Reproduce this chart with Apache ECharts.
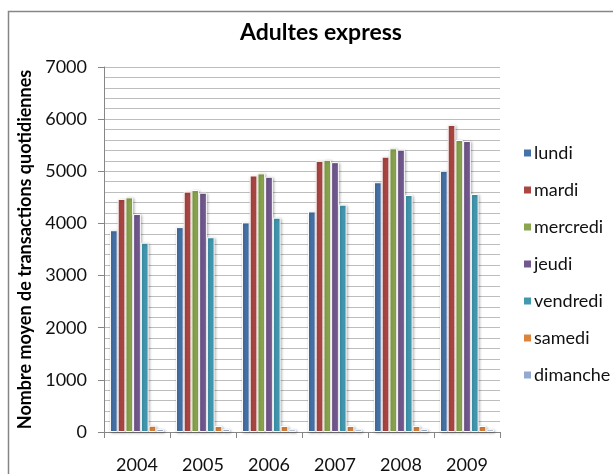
<!DOCTYPE html>
<html>
<head>
<meta charset="utf-8">
<script src="https://cdn.jsdelivr.net/npm/echarts@6/dist/echarts.min.js"></script>
<style>
  html, body { margin: 0; padding: 0; background: #fff; }
  #root { width: 613px; height: 474px; }
</style>
</head>
<body>
<div id="root"></div>
<script>
const years = ['2004', '2005', '2006', '2007', '2008', '2009'];
const lundi = [3870, 3930, 4020, 4230, 4790, 5010];
const mardi = [4470, 4610, 4920, 5200, 5280, 5890];
const mercredi = [4500, 4640, 4960, 5220, 5440, 5600];
const jeudi = [4180, 4590, 4895, 5175, 5415, 5580];
const vendredi = [3630, 3735, 4110, 4360, 4545, 4565];
const samedi = [120, 115, 115, 115, 115, 115];
const dimanche = [55, 55, 50, 50, 55, 50];
const yTicks = [0, 1000, 2000, 3000, 4000, 5000, 6000, 7000];

const days = [
  { name: 'lundi', data: lundi, color: '#4572A7' },
  { name: 'mardi', data: mardi, color: '#AA4643' },
  { name: 'mercredi', data: mercredi, color: '#89A54E' },
  { name: 'jeudi', data: jeudi, color: '#71588F' },
  { name: 'vendredi', data: vendredi, color: '#4198AF' },
  { name: 'samedi', data: samedi, color: '#DB843D' },
  { name: 'dimanche', data: dimanche, color: '#93A9CF' }
];

const font = 'Lato, "Open Sans", sans-serif';
const chart = echarts.init(document.getElementById('root'));

const series = days.map(({ name, data, color }) => ({
  name,
  type: 'bar',
  data,
  barGap: 0,
  barCategoryGap: '18%',
  itemStyle: {
    color,
    borderColor: '#fff',
    borderWidth: 1,
    shadowBlur: 3,
    shadowColor: 'rgba(0,0,0,0.3)',
    shadowOffsetX: 1,
    shadowOffsetY: 1
  }
}));

chart.setOption({
  animation: false,
  title: {
    text: 'Adultes express',
    left: 316,
    textAlign: 'center',
    top: 16,
    textStyle: { fontFamily: font, fontSize: 23, fontWeight: 'bold', color: '#000' }
  },
  graphic: [{
    type: 'rect',
    shape: { x: 8.5, y: 11.5, width: 620, height: 480 },
    style: { fill: 'none', stroke: '#868686', lineWidth: 1.5 },
    silent: true
  }],
  legend: {
    orient: 'vertical',
    left: 517,
    top: 138,
    itemWidth: 9,
    itemHeight: 9,
    itemGap: 17,
    icon: 'rect',
    textStyle: { fontFamily: font, fontSize: 18, lineHeight: 20, color: '#111', padding: [0, 0, 0, -3] },
    data: days.map(d => d.name)
  },
  grid: { left: 104, right: 113, top: 67, bottom: 39 },
  xAxis: {
    type: 'category',
    data: years,
    axisLine: { lineStyle: { color: '#868686', width: 1 } },
    axisTick: { show: true, length: 6, lineStyle: { color: '#868686' } },
    axisLabel: { fontFamily: font, fontSize: 18, color: '#111', margin: 24 }
  },
  yAxis: {
    type: 'value',
    min: yTicks[0],
    max: yTicks[yTicks.length - 1],
    interval: 1000,
    name: 'Nombre moyen de transactions quotidiennes',
    nameLocation: 'middle',
    nameGap: 63,
    nameTextStyle: { fontFamily: font, fontSize: 18, fontWeight: 'bold', color: '#000' },
    axisLine: { show: true, lineStyle: { color: '#868686', width: 1 } },
    axisTick: { show: true, length: 6, lineStyle: { color: '#868686' } },
    axisLabel: { fontFamily: font, fontSize: 18, color: '#111', margin: 17, formatter: v => String(v) },
    splitLine: { lineStyle: { color: '#BDBDBD', width: 1 } },
    minorTick: { show: false, splitNumber: 5 },
    minorSplitLine: { show: true, lineStyle: { color: '#BDBDBD', width: 1 } }
  },
  series
});

window.onresize = () => chart.resize();
</script>
</body>
</html>
